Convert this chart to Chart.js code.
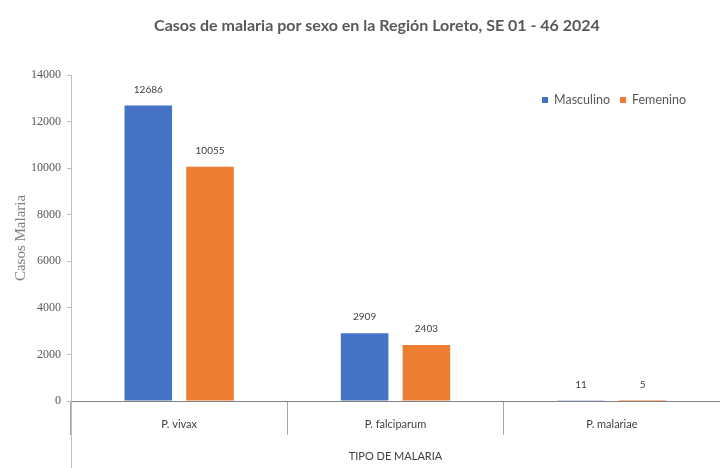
<!DOCTYPE html>
<html><head><meta charset="utf-8">
<script src="https://cdn.jsdelivr.net/npm/chart.js@4/dist/chart.umd.min.js"></script>
<style>html,body{margin:0;padding:0;background:#fff}</style>
</head><body>
<canvas id="c" width="720" height="468"></canvas>
<script>
const chartTitle = 'Casos de malaria por sexo en la Región Loreto, SE 01 - 46 2024';
const categories = ['P. vivax', 'P. falciparum', 'P. malariae'];
const seriesNames = ['Masculino', 'Femenino'];
const masculino = [12686, 2909, 11];
const femenino = [10055, 2403, 5];
const seriesColors = ['#4472C4', '#ED7D31'];
const yMin = 0, yMax = 14000, yStep = 2000;
const yAxisTitle = 'Casos Malaria';
const xAxisTitle = 'TIPO DE MALARIA';

const titlePlugin = {
  id: 'titleText',
  afterDraw(chart) {
    const ctx = chart.ctx;
    ctx.save();
    ctx.font = 'bold 16px Lato';
    ctx.fillStyle = '#595959';
    ctx.textAlign = 'center';
    ctx.textBaseline = 'middle';
    ctx.fillText(chartTitle, 377, 26);
    ctx.restore();
  }
};

const legendPlugin = {
  id: 'insideLegend',
  afterDraw(chart) {
    const ctx = chart.ctx;
    ctx.save();
    ctx.font = '12.5px Lato';
    ctx.textBaseline = 'middle';
    ctx.textAlign = 'left';
    let x = 542;
    const y = 100;
    chart.data.datasets.forEach((ds) => {
      ctx.fillStyle = ds.backgroundColor;
      ctx.fillRect(x, y - 3, 6, 6);
      x += 12;
      ctx.fillStyle = '#595959';
      ctx.fillText(ds.label, x, y);
      x += ctx.measureText(ds.label).width + 10;
    });
    ctx.restore();
  }
};

const labelPlugin = {
  id: 'barLabels',
  afterDatasetsDraw(chart) {
    const ctx = chart.ctx;
    ctx.save();
    ctx.font = '10px Lato';
    ctx.fillStyle = '#404040';
    ctx.textAlign = 'center';
    ctx.textBaseline = 'middle';
    chart.data.datasets.forEach((ds, di) => {
      chart.getDatasetMeta(di).data.forEach((bar, i) => {
        ctx.fillText(String(ds.data[i]), bar.x, bar.y - 16);
      });
    });
    ctx.restore();
  }
};

const axisExtPlugin = {
  id: 'axisExt',
  afterDraw(chart) {
    const ctx = chart.ctx;
    const a = chart.chartArea;
    ctx.save();
    ctx.strokeStyle = '#bfbfbf';
    ctx.lineWidth = 1;
    ctx.beginPath();
    ctx.moveTo(Math.round(a.left) + 0.5, a.bottom);
    ctx.lineTo(Math.round(a.left) + 0.5, chart.height);
    ctx.stroke();
    ctx.restore();
  }
};

new Chart(document.getElementById('c'), {
  type: 'bar',
  data: {
    labels: categories,
    datasets: [
      { label: seriesNames[0], data: masculino, backgroundColor: seriesColors[0] },
      { label: seriesNames[1], data: femenino, backgroundColor: seriesColors[1] }
    ]
  },
  options: {
    responsive: false,
    animation: false,
    devicePixelRatio: 1,
    categoryPercentage: 0.571,
    barPercentage: 0.77,
    layout: { padding: { top: 75, left: 0, right: 0, bottom: 0 } },
    plugins: {
      legend: { display: false },
      title: { display: false },
      tooltip: { enabled: false }
    },
    scales: {
      x: {
        afterFit(scale) { scale.height = 67; },
        grid: {
          offset: true,
          drawOnChartArea: false,
          tickLength: 34,
          color: '#a6a6a6'
        },
        border: { color: '#808080', width: 1 },
        ticks: {
          padding: -17,
          color: '#404040',
          font: { family: 'Lato', size: 11 }
        },
        title: {
          display: true,
          text: xAxisTitle,
          color: '#404040',
          font: { family: 'Lato', size: 11 },
          padding: { top: 0, bottom: 5 }
        }
      },
      y: {
        min: yMin,
        max: yMax,
        afterFit(scale) { scale.width = 71; },
        grid: {
          drawOnChartArea: false,
          tickLength: 4,
          color: '#bfbfbf'
        },
        border: { color: '#bfbfbf', width: 1 },
        ticks: {
          stepSize: yStep,
          padding: 6,
          color: '#595959',
          font: { family: 'Liberation Serif', size: 12 },
          callback: (v) => String(v)
        },
        title: {
          display: true,
          text: yAxisTitle,
          color: '#7f7f7f',
          font: { family: 'Liberation Serif', size: 15 },
          padding: { top: 12, bottom: 0 }
        }
      }
    }
  },
  plugins: [titlePlugin, legendPlugin, labelPlugin, axisExtPlugin]
});
</script>
</body></html>
